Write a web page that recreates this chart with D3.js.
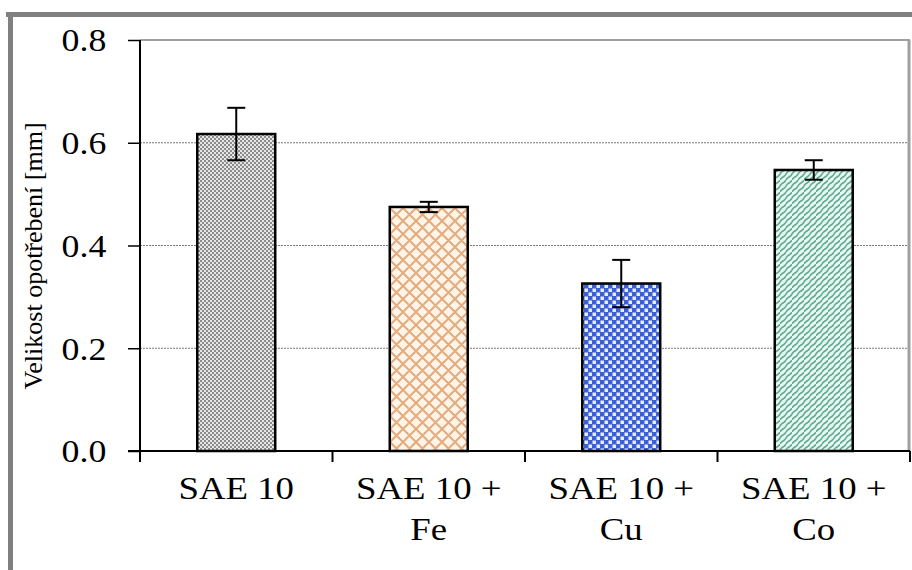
<!DOCTYPE html>
<html><head><meta charset="utf-8">
<script src="https://cdn.jsdelivr.net/npm/d3@7"></script>
<style>
body{margin:0;background:#fff;}
#c, #c text, #c tspan { font-family: 'Liberation Serif', 'Times New Roman', Tinos, Times, serif !important; font-weight: 400; }
</style>
</head><body>
<svg id="c" width="912" height="570" font-family="Liberation Serif"></svg>
<script>
const categories = [["SAE 10"], ["SAE 10 +", "Fe"], ["SAE 10 +", "Cu"], ["SAE 10 +", "Co"]];
const catKeys = ["SAE 10", "SAE 10 + Fe", "SAE 10 + Cu", "SAE 10 + Co"];
const values = [0.617, 0.475, 0.326, 0.547];
const errors = [0.051, 0.010, 0.046, 0.019];
const yTicks = [0.0, 0.2, 0.4, 0.6, 0.8];
const yLabel = "Velikost opotřebení [mm]";
const patterns = ["pGray", "pOrange", "pBlue", "pGreen"];

const FONT = "'Liberation Serif', 'Times New Roman', Tinos, Times, serif";
const svg = d3.select("#c");
const W = 912, H = 570;
const mLeft = 140, mRight = 910, mTop = 40, mBottom = 451;

svg.append("rect").attr("x", 6).attr("y", 12).attr("width", W - 6).attr("height", 5).attr("fill", "#808080");
svg.append("rect").attr("x", 8).attr("y", 12).attr("width", 5).attr("height", H - 12).attr("fill", "#808080");

const defs = svg.append("defs");
let p = defs.append("pattern").attr("id", "pGray").attr("patternUnits", "userSpaceOnUse").attr("width", 4).attr("height", 4);
p.append("rect").attr("width", 4).attr("height", 4).attr("fill", "#e6e6e6");
p.append("rect").attr("width", 2).attr("height", 2).attr("fill", "#8c8c8c");
p.append("rect").attr("x", 2).attr("y", 2).attr("width", 2).attr("height", 2).attr("fill", "#8c8c8c");
p = defs.append("pattern").attr("id", "pOrange").attr("patternUnits", "userSpaceOnUse").attr("width", 13).attr("height", 13);
p.append("rect").attr("width", 13).attr("height", 13).attr("fill", "#fff4e8");
p.append("path").attr("d", "M0,0L13,13M13,0L0,13M-1,12L1,14M12,-1L14,1M-1,1L1,-1M12,14L14,12").attr("stroke", "#e3ab7e").attr("stroke-width", 2).attr("fill", "none");
p = defs.append("pattern").attr("id", "pBlue").attr("patternUnits", "userSpaceOnUse").attr("width", 8).attr("height", 8);
p.append("rect").attr("width", 8).attr("height", 8).attr("fill", "#3c5fd2");
p.append("rect").attr("x", 0.5).attr("y", 0.5).attr("width", 3.5).attr("height", 3.5).attr("fill", "#e4ecff");
p.append("rect").attr("x", 4.5).attr("y", 4.5).attr("width", 3.5).attr("height", 3.5).attr("fill", "#e4ecff");
p = defs.append("pattern").attr("id", "pGreen").attr("patternUnits", "userSpaceOnUse").attr("width", 12).attr("height", 12);
p.append("rect").attr("width", 12).attr("height", 12).attr("fill", "#e5f7f0");
p.append("path").attr("d", "M0,12 C2,8 4,10 6,6 C8,2 10,4 12,0 M-6,12 C-4,8 -2,10 0,6 C2,2 4,4 6,0 M6,12 C8,8 10,10 12,6 C14,2 16,4 18,0")
  .attr("stroke", "#5ea88e").attr("stroke-width", 1.6).attr("fill", "none");

const x = d3.scaleBand().domain(catKeys).range([mLeft, mRight]).paddingInner(0.595).paddingOuter(0.2975);
const y = d3.scaleLinear().domain([0, 0.8]).range([mBottom, mTop]);

svg.append("g").selectAll("line").data(yTicks.filter(t => t > 0 && t < 0.8)).join("line")
  .attr("x1", mLeft).attr("x2", mRight).attr("y1", d => y(d)).attr("y2", d => y(d))
  .attr("stroke", "#7a7a7a").attr("stroke-width", 1).attr("stroke-dasharray", "2,1");
svg.append("line").attr("x1", mLeft).attr("x2", mRight).attr("y1", y(0.8)).attr("y2", y(0.8)).attr("stroke", "#a0a0a0").attr("stroke-width", 2);
svg.append("line").attr("x1", mRight - 1).attr("x2", mRight - 1).attr("y1", y(0.8)).attr("y2", y(0)).attr("stroke", "#a0a0a0").attr("stroke-width", 3);

svg.append("g").selectAll("rect").data(values).join("rect")
  .attr("x", (d, i) => x(catKeys[i])).attr("y", d => y(d))
  .attr("width", x.bandwidth()).attr("height", d => y(0) - y(d))
  .attr("fill", (d, i) => `url(#${patterns[i]})`).attr("stroke", "#000").attr("stroke-width", 2.5);

const eg = svg.append("g").attr("stroke", "#000").attr("stroke-width", 2);
values.forEach((v, i) => {
  const cx = x(catKeys[i]) + x.bandwidth() / 2;
  eg.append("line").attr("x1", cx).attr("x2", cx).attr("y1", y(v + errors[i])).attr("y2", y(v - errors[i]));
  eg.append("line").attr("x1", cx - 9).attr("x2", cx + 9).attr("y1", y(v + errors[i])).attr("y2", y(v + errors[i]));
  eg.append("line").attr("x1", cx - 9).attr("x2", cx + 9).attr("y1", y(v - errors[i])).attr("y2", y(v - errors[i]));
});

const yAxis = svg.append("g").attr("transform", `translate(${mLeft},0)`)
  .call(d3.axisLeft(y).tickValues(yTicks).tickFormat(d3.format(".1f")).tickSize(12).tickPadding(18));
yAxis.attr("font-family", "Liberation Serif");
yAxis.select(".domain").remove();
yAxis.selectAll(".tick line").attr("stroke", "#000").attr("stroke-width", 1.5);
yAxis.selectAll(".tick text").attr("fill", "#000").attr("dy", "0.34em")
  .style("font-family", FONT).style("font-size", "32px")
  .attr("transform", "scale(1.12,1)");
svg.append("line").attr("x1", mLeft).attr("x2", mLeft).attr("y1", y(0.8)).attr("y2", y(0) + 11).attr("stroke", "#000").attr("stroke-width", 2);

svg.append("line").attr("x1", mLeft - 12).attr("x2", mRight).attr("y1", y(0)).attr("y2", y(0)).attr("stroke", "#000").attr("stroke-width", 2);
const bounds = catKeys.map(k => x(k) + x.bandwidth() / 2 - x.step() / 2).concat([mRight]);
svg.append("g").selectAll("line").data(bounds.slice(1)).join("line")
  .attr("x1", d => d).attr("x2", d => d).attr("y1", y(0)).attr("y2", y(0) + 11)
  .attr("stroke", "#000").attr("stroke-width", 2);

categories.forEach((lines, i) => {
  const cx = x(catKeys[i]) + x.bandwidth() / 2;
  const t = svg.append("text").attr("transform", `translate(${cx},499) scale(1.15,1)`)
    .attr("text-anchor", "middle").style("font-family", FONT).style("font-size", "32px").attr("fill", "#000");
  lines.forEach((l, j) => t.append("tspan").attr("x", 0).attr("y", j * 41).text(l));
});

svg.append("text").attr("transform", "translate(42,256) rotate(-90)")
  .attr("text-anchor", "middle").style("font-family", FONT).style("font-size", "26px").attr("fill", "#000")
  .text(yLabel);
</script>
</body></html>
